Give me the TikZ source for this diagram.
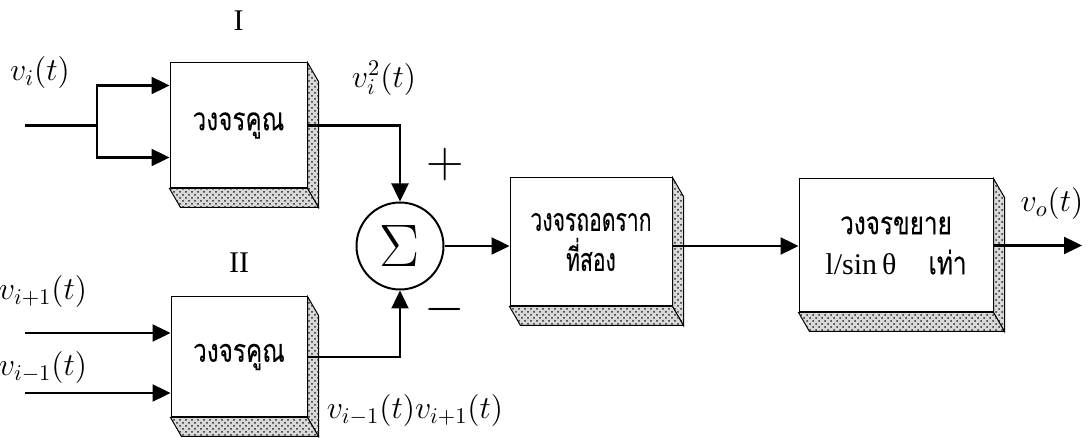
\documentclass[tikz,border=0pt]{standalone}
\usepackage{fix-cm}
\usepackage{fontspec}
\setmainfont{Liberation Serif}
\newfontfamily\thaifont[Script=Thai,FakeStretch=0.76,FakeBold=0.15]{Loma}
\newfontfamily\thainarrow[Script=Thai,FakeStretch=0.66,FakeBold=0.15]{Loma}
\usetikzlibrary{arrows.meta,positioning,patterns}

\begin{document}
\begin{tikzpicture}[
x=0.5pt,y=-0.5pt,
block/.style={draw,line width=0.5pt,fill=white,align=center,inner sep=0pt,font=\thaifont\fontsize{16}{20}\selectfont},
sumnode/.style={draw,circle,line width=1pt,minimum size=43.5pt,inner sep=0pt,font=\fontsize{30}{30}\selectfont},
sig/.style={font=\fontsize{16}{18}\selectfont,inner sep=1pt},
tag/.style={font=\fontsize{15}{18}\selectfont},
sign/.style={font=\fontsize{26}{26}\selectfont,inner sep=0pt},
arrow/.style={-{Triangle[length=9pt,width=8.5pt]},line width=1.2pt},
wire/.style={line width=1.2pt},
bevel/.style={draw,line width=0.5pt,fill=gray!30,postaction={pattern=crosshatch dots,pattern color=black!85}}
]
\useasboundingbox (0,0) rectangle (1088,438);

% blocks
\node[block,minimum width=68.5pt,minimum height=62.5pt] (multA) at (238.5,125.5) {วงจรคูณ};
\node[block,minimum width=68pt,minimum height=60pt] (multB) at (239,357) {วงจรคูณ};
\node[sumnode] (sum) at (400,246) {$\Sigma$};
\node[block,minimum width=81pt,minimum height=64pt,font=\thainarrow\fontsize{16}{20}\selectfont] (sqrt) at (591,242) {วงจรถอดราก\\ที่สอง};
\node[block,minimum width=97pt,minimum height=66.5pt] (amp) at (896,245.5) {วงจรขยาย\\{\rmfamily\fontsize{15}{20}\selectfont l/sin\,θ}\quad เท่า};

% bevelled faces
\foreach \b in {multA,multB,sqrt,amp}{
  \draw[bevel] (\b.north east) -- ++(11,19) -- ([shift={(11,19)}]\b.south east) -- (\b.south east) -- cycle;
  \draw[bevel] (\b.south west) -- (\b.south east) -- ++(11,19) -- ([shift={(11,19)}]\b.south west) -- cycle;
}

% labels
\node[tag,above=12.5pt of multA] (labI) {I};
\node[tag,above=8.5pt of multB] (labII) {II};
\node[sig] (vi) at (40,73) {$v_i(t)$};
\node[sig] (viSq) at (384,78) {$v_i^2(t)$};
\node[sig] (viNext) at (43,292) {$v_{i+1}(t)$};
\node[sig] (viPrev) at (43,368) {$v_{i-1}(t)$};
\node[sig] (prod) at (415,411) {$v_{i-1}(t)v_{i+1}(t)$};
\node[sig] (vo) at (1052,204) {$v_o(t)$};
\node[sign] (plus) at (445,165) {$+$};
\node[sign] (minus) at (445,310) {$-$};

% connectors
\coordinate (inA) at (25,125.5);
\coordinate (split) at (97,125.5);
\coordinate (inB1) at (25,333);
\coordinate (inB2) at (25,393);
\coordinate (out) at (1082,245.5);
\draw[wire] (inA) -- (split);
\draw[arrow] (split) |- ([yshift=20pt]multA.west);
\draw[arrow] (split) |- ([yshift=-16pt]multA.west);
\draw[arrow] (inB1) -- (inB1 -| multB.west);
\draw[arrow] (inB2) -- (inB2 -| multB.west);
\draw[arrow] (multA.east) -| (sum.north);
\draw[arrow] (multB.east) -| (sum.south);
\draw[arrow] (sum) -- (sum -| sqrt.west);
\draw[arrow] (sum -| sqrt.east) -- (sum -| amp.west);
\draw[arrow] (amp.east) -- (out);
\end{tikzpicture}
\end{document}
